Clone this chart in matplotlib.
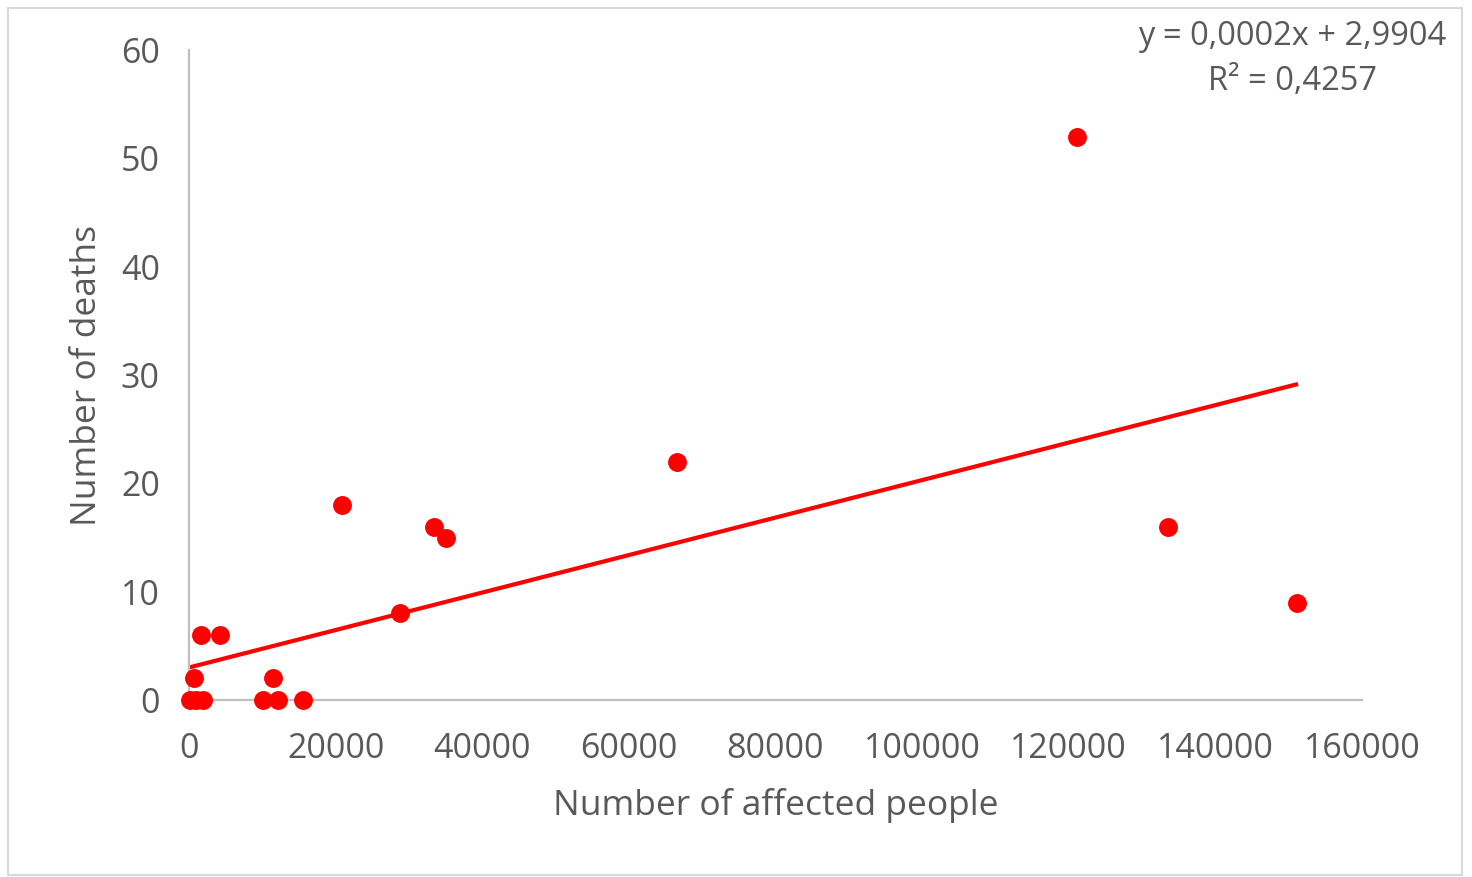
import matplotlib
matplotlib.use("Agg")
import matplotlib.pyplot as plt
from matplotlib.patches import Rectangle
import numpy as np

# data
affected = [100, 1000, 1900, 680, 1640, 4230, 10100, 11500, 12100, 15600,
            28800, 20900, 33400, 35000, 66600, 121100, 133500, 151100]
deaths = [0, 0, 0, 2, 6, 6, 0, 2, 0, 0,
          8, 18, 16, 15, 22, 52, 16, 9]
trend_slope = 0.000173
trend_intercept = 3.0
trend_x = [0, 151000]
equation_text = "y = 0,0002x + 2,9904\nR² = 0,4257"
xticks = [0, 20000, 40000, 60000, 80000, 100000, 120000, 140000, 160000]
yticks = [0, 10, 20, 30, 40, 50, 60]

plt.rcParams['font.family'] = ['Open Sans', 'DejaVu Sans']
grey = '#595959'

fig = plt.figure(figsize=(14.72, 8.77), dpi=100)
fig.patches.append(Rectangle((8/1472, 2/877), 1454/1472, 867/877, transform=fig.transFigure,
                             fill=False, edgecolor='#D9D9D9', linewidth=1.5))
ax = fig.add_axes([189/1472, 1-700/877, (1362-189)/1472, 650/877])

tx = np.array(trend_x, dtype=float)
ax.plot(tx, trend_slope*tx + trend_intercept, color='#FF0000', linewidth=3.0, zorder=2)
ax.scatter(affected, deaths, s=185, color='#FF0000', zorder=3, clip_on=False, linewidths=0)

ax.set_xlim(0, 160000)
ax.set_ylim(0, 60)
ax.set_xticks(xticks)
ax.set_yticks(yticks)
ax.set_xticklabels([str(v) for v in xticks])
ax.set_yticklabels([str(v) for v in yticks])
ax.tick_params(axis='both', length=0, labelsize=24.5, colors=grey)
ax.tick_params(axis='y', pad=21)
ax.tick_params(axis='x', pad=23)
for s in ['top', 'right']:
    ax.spines[s].set_visible(False)
for s in ['left', 'bottom']:
    ax.spines[s].set_color('#BFBFBF')
    ax.spines[s].set_linewidth(1.6)

ax.set_xlabel('Number of affected people', fontsize=25.5, color=grey, labelpad=16)
ax.set_ylabel('Number of deaths', fontsize=25.5, color=grey, labelpad=12)

fig.text(1292/1472, 1-20/877, equation_text, ha='center', va='top', fontsize=23.5,
         color=grey, linespacing=1.5)

fig.savefig('out.png', dpi=100)
